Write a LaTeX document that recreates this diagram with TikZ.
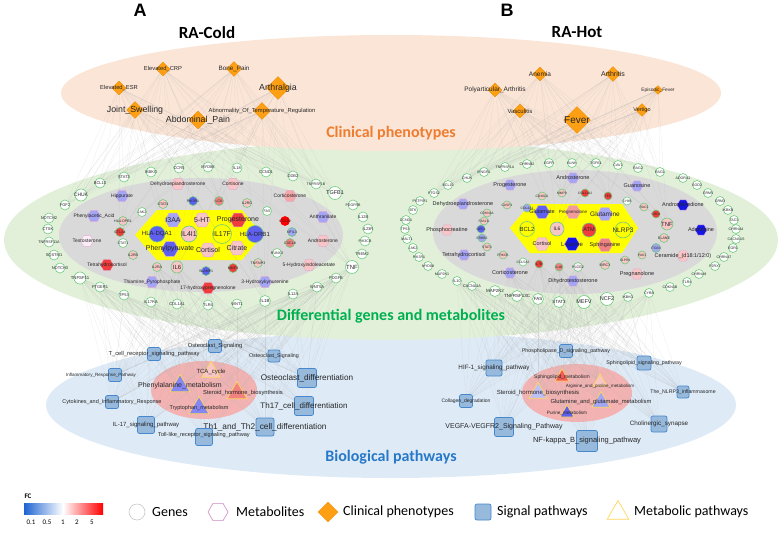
\documentclass[tikz,border=0pt]{standalone}
\usepackage{fontspec}
\setmainfont{Liberation Sans}
\newfontfamily\calibrifont{Carlito}
\usepackage{tikz}
\usetikzlibrary{shapes.geometric,backgrounds}
\definecolor{fcBthree}{RGB}{20,20,230}
\definecolor{fcBtwo}{RGB}{95,95,240}
\definecolor{fcBone}{RGB}{165,165,245}
\definecolor{fcW}{RGB}{250,238,246}
\definecolor{fcRone}{RGB}{248,198,198}
\definecolor{fcRtwo}{RGB}{240,130,130}
\definecolor{fcRthree}{RGB}{240,60,60}
\definecolor{fcRfour}{RGB}{250,0,0}
\definecolor{geneLine}{RGB}{110,205,125}
\definecolor{metaLine}{RGB}{225,175,210}
\definecolor{phenoOrange}{RGB}{255,160,20}
\definecolor{phenoLine}{RGB}{235,140,0}
\definecolor{sigFill}{RGB}{150,185,220}
\definecolor{sigLine}{RGB}{70,135,205}
\definecolor{metabLine}{RGB}{255,215,90}
\definecolor{yellowHub}{RGB}{255,255,0}
\definecolor{peachBg}{RGB}{251,229,214}
\definecolor{greenBg}{RGB}{226,240,217}
\definecolor{blueBg}{RGB}{222,235,247}
\definecolor{grayBg}{RGB}{217,217,217}
\definecolor{pinkBg}{RGB}{244,178,178}
\definecolor{orangeTxt}{RGB}{237,125,49}
\definecolor{greenTxt}{RGB}{0,176,80}
\definecolor{blueTxt}{RGB}{40,120,200}
\definecolor{barBlue}{RGB}{30,100,210}
\definecolor{legLine}{RGB}{200,200,200}
\pgfdeclarelayer{back}
\pgfdeclarelayer{edges}
\pgfsetlayers{back,edges,main}
\tikzset{
  lab/.style={font=\fontsize{#1}{#1}\selectfont, inner sep=0pt, text=black!85},
  gene/.style={circle, draw=geneLine, line width=0.6pt, fill=white, inner sep=0pt, minimum size=#1},
  gene/.default=10pt,
  meta/.style={regular polygon, regular polygon sides=6, draw=metaLine, line width=0.4pt, inner sep=0pt, minimum size=#1},
  meta/.default=13pt,
  pheno/.style={diamond, draw=phenoLine, line width=0.4pt, fill=phenoOrange, inner sep=0pt, minimum size=#1},
  sig/.style={rectangle, rounded corners=2pt, draw=sigLine, line width=0.7pt, fill=sigFill, inner sep=0pt, minimum size=#1},
  metab/.style={regular polygon, regular polygon sides=3, draw=metabLine, line width=0.7pt, inner sep=0pt, minimum size=#1},
  link/.style={draw=black!30, line width=0.2pt, opacity=0.3},
  title/.style={font=\calibrifont\bfseries\fontsize{16}{16}\selectfont},
  legtxt/.style={font=\calibrifont\fontsize{14}{14}\selectfont, anchor=west, inner sep=0pt},
}

\begin{document}
\begin{tikzpicture}[x=1pt, y=-1pt]
\useasboundingbox (0,0) rectangle (783,532);

% layers of the figure
\begin{pgfonlayer}{back}
\fill[blueBg] (391,405) ellipse [x radius=345pt, y radius=73pt];
\fill[greenBg] (391,240) ellipse [x radius=387pt, y radius=100pt];
\fill[peachBg] (391,93) ellipse [x radius=330pt, y radius=58pt];
\fill[grayBg] (201,235) ellipse [x radius=142pt, y radius=57pt];
\fill[grayBg] (575,232) ellipse [x radius=142pt, y radius=62pt];
\fill[yellowHub] (135,235) -- (157,210) -- (242,210) -- (262,235) -- (242,260) -- (157,260) -- cycle;
\fill[yellowHub] (510,228) -- (530,204) -- (622,204) -- (638,228) -- (622,253) -- (530,253) -- cycle;
\fill[pinkBg] (204,390) ellipse [x radius=53pt, y radius=29pt];
\fill[pinkBg] (577,393) ellipse [x radius=55pt, y radius=29pt];
\end{pgfonlayer}

\node[font=\bfseries\fontsize{18}{18}\selectfont] (panelA) at (140,10) {A};
\node[font=\bfseries\fontsize{18}{18}\selectfont] (panelB) at (507,10) {B};
\node[font=\calibrifont\bfseries\fontsize{17}{17}\selectfont] (coldTitle) at (207,33) {RA-Cold};
\node[font=\calibrifont\bfseries\fontsize{17}{17}\selectfont] (hotTitle) at (577,32) {RA-Hot};
\node[title, text=orangeTxt] (layerPheno) at (391,133) {Clinical phenotypes};
\node[title, text=greenTxt] (layerGenes) at (391,316) {Differential genes and metabolites};
\node[title, text=blueTxt] (layerPath) at (391,457) {Biological pathways};

% clinical phenotypes, RA-Cold
\node[pheno=14pt, label={[lab=5.8]center:Elevated\_CRP}] (aCRP) at (163,69) {};
\node[pheno=15pt, label={[lab=6.3]center:Bone\_Pain}] (aBone) at (234,69) {};
\node[pheno=14pt, label={[lab=5.8]center:Elevated\_ESR}] (aESR) at (119,88) {};
\node[pheno=23pt, label={[lab=8.8]center:Arthralgia}] (aArth) at (278,88) {};
\node[pheno=17pt, label={[lab=8.8]center:Joint\_Swelling}] (aJoint) at (135,110) {};
\node[pheno=17pt, label={[lab=5.8]center:Abnormality\_Of\_Temperature\_Regulation}] (aAbn) at (262,111) {};
\node[pheno=18pt, label={[lab=8.8]center:Abdominal\_Pain}] (aAbd) at (198,120) {};

% clinical phenotypes, RA-Hot
\node[pheno=14pt, label={[lab=6.5]center:Anemia}] (bAnemia) at (540,74) {};
\node[pheno=15pt, label={[lab=7]center:Arthritis}] (bArthritis) at (613,74) {};
\node[pheno=14pt, label={[lab=6.5]center:Polyarticular\_Arthritis}] (bPoly) at (495,90) {};
\node[pheno=9pt, label={[lab=4.8]center:Episodic\_Fever}] (bEpi) at (658,90) {};
\node[pheno=14pt, label={[lab=6]center:Vasculitis}] (bVasc) at (520,111) {};
\node[pheno=13pt, label={[lab=5.5]center:Vertigo}] (bVert) at (642,110) {};
\node[pheno=27pt, label={[lab=10]center:Fever}] (bFever) at (577,120) {};

% genes, outer ring A
\node[gene, label={[lab=4]center:STAT3}] (aSTAT3) at (124,177) {};
\node[gene, label={[lab=4]center:IKBKG}] (aIKBKG) at (151,172) {};
\node[gene, label={[lab=4]center:CCR5}] (aCCR5) at (179,168) {};
\node[gene, label={[lab=4]center:MYD88}] (aMYD88) at (208,167) {};
\node[gene, label={[lab=4]center:IL18}] (aIL18) at (237,168) {};
\node[gene, label={[lab=4]center:CCND1}] (aCCND1) at (266,172) {};
\node[gene, label={[lab=4]center:DDB2}] (aDDB2) at (293,176) {};
\node[gene, label={[lab=3.6]center:TNFRSF1B}] (aTNFR) at (316,184) {};
\node[gene=13pt, label={[lab=5.5]center:TGFB1}] (aTGFB1) at (335,193) {};
\node[gene, label={[lab=3.6]center:PDGFRB}] (aPDGFRB) at (353,205) {};
\node[gene, label={[lab=4]center:IL12B}] (aIL12B) at (363,217) {};
\node[gene, label={[lab=4]center:IL23R}] (aIL23R) at (368,229) {};
\node[gene, label={[lab=3.6]center:PIK3CB}] (aPIK3CB) at (365,241) {};
\node[gene, label={[lab=4]center:TREM2}] (aTREM2) at (362,254) {};
\node[gene=13pt, label={[lab=6]center:TNF}] (aTNF) at (352,267) {};
\node[gene, label={[lab=4]center:PDGFB}] (aPDGFB) at (336,278) {};
\node[gene, label={[lab=4]center:WNT5A}] (aWNT5A) at (317,287) {};
\node[gene, label={[lab=4]center:IL12A}] (aIL12A) at (293,294) {};
\node[gene=11pt, label={[lab=4.5]center:IL1B}] (aIL1B) at (265,301) {};
\node[gene, label={[lab=4]center:WNT1}] (aWNT1) at (237,304) {};
\node[gene, label={[lab=4]center:TLR4}] (aTLR4) at (208,305) {};
\node[gene, label={[lab=4]center:COL1A1}] (aCOL1A1) at (177,304) {};
\node[gene, label={[lab=4]center:IL17RA}] (aIL17RA) at (151,302) {};
\node[gene, label={[lab=4]center:TP53}] (aTP53) at (124,295) {};
\node[gene, label={[lab=4]center:PTGER1}] (aPTGER1) at (100,287) {};
\node[gene=12pt, label={[lab=4.3]center:TNFSF11}] (aTNFSF11) at (80,278) {};
\node[gene, label={[lab=4]center:NOTCH3}] (aNOTCH3) at (60,268) {};
\node[gene, label={[lab=4]center:SQSTM1}] (aSQSTM1) at (54,255) {};
\node[gene, label={[lab=3.8]center:TNFRSF11A}] (aTNFRSF11A) at (49,242) {};
\node[gene, label={[lab=4]center:CTSK}] (aCTSK) at (48,229) {};
\node[gene, label={[lab=4]center:NOTCH2}] (aNOTCH2) at (49,218) {};
\node[gene, label={[lab=4]center:FGF2}] (aFGF2) at (65,205) {};
\node[gene=12pt, label={[lab=5]center:CHUK}] (aCHUK) at (81,195) {};
\node[gene, label={[lab=4]center:BCL10}] (aBCL10) at (100,183) {};

% metabolites and genes, gray zone A
\node[meta, fill=fcRone, label={[lab=5]center:Dehydroepiandrosterone}] (aDHEA) at (178,184) {};
\node[meta, fill=fcRone, label={[lab=5]center:Cortisone}] (aCortisone) at (233,184) {};
\node[meta, fill=fcBone, label={[lab=5]center:Hippurate}] (aHipp) at (122,196) {};
\node[meta, fill=fcBone, label={[lab=5]center:Phenylacetic\_Acid}] (aPhAc) at (94,216) {};
\node[meta, fill=fcW, label={[lab=5]center:Testosterone}] (aTesto) at (87,241) {};
\node[meta, fill=fcRthree, label={[lab=5]center:Tetrahydrocortisol}] (aTHC) at (107,265) {};
\node[meta, fill=fcBone, label={[lab=5]center:Thiamine\_Pyrophosphate}] (aTPP) at (152,282) {};
\node[meta, fill=fcRthree, label={[lab=5]center:17-hydroxypregnenolone}] (a17OH) at (208,288) {};
\node[meta, fill=fcRtwo!70, label={[lab=5]center:Corticosterone}] (aCortico) at (290,196) {};
\node[meta, fill=fcBone, label={[lab=5]center:Anthranilate}] (aAnth) at (323,217) {};
\node[meta, fill=fcRone, label={[lab=5]center:Androsterone}] (aAndro) at (323,241) {};
\node[meta, fill=fcRone, label={[lab=5]center:5-Hydroxyindoleacetate}] (a5HIAA) at (309,265) {};
\node[meta, fill=fcBone, label={[lab=5]center:3-Hydroxykynurenine}] (a3HK) at (265,282) {};
\node[gene=9pt, fill=fcRone, label={[lab=3.6]center:STAT4}] (aSTAT4) at (163,204) {};
\node[gene=9pt, fill=fcBtwo, label={[lab=3.6]center:PIK3R1}] (aPIK3R1) at (193,201) {};
\node[gene=9pt, fill=fcRtwo, label={[lab=3.6]center:LCK}] (aLCK) at (219,201) {};
\node[gene=9pt, fill=fcRone, label={[lab=3.6]center:IL2RG}] (aIL2RG) at (247,203) {};
\node[gene=9pt, label={[lab=3.6]center:JAK2}] (aJAK2) at (142,212) {};
\node[gene=9pt, fill=fcRone, label={[lab=3.6]center:HLA-DPB1}] (aHLADPB1) at (123,221) {};
\node[gene=9pt, fill=fcRthree, label={[lab=3.6]center:CTLA4}] (aCTLA4) at (120,232) {};
\node[gene=9pt, label={[lab=3.6]center:STAT1}] (aSTAT1) at (123,243) {};
\node[gene=9pt, fill=fcRone, label={[lab=3.6]center:IL2RB}] (aIL2RB) at (133,255) {};
\node[gene=9pt, fill=fcRone, label={[lab=3.6]center:IL2RA}] (aIL2RA) at (157,267) {};
\node[gene=12pt, fill=fcRone, label={[lab=6]center:IL6}] (aIL6) at (177,267) {};
\node[gene=9pt, fill=fcBtwo, label={[lab=3.6]center:SLAMF1}] (aSLAMF1) at (206,271) {};
\node[gene=9pt, fill=fcRthree, label={[lab=3.6]center:MMP3}] (aMMP3) at (233,268) {};
\node[gene=9pt, fill=fcRone, label={[lab=3.6]center:TNFAIP3}] (aTNFAIP3) at (258,263) {};
\node[gene=9pt, label={[lab=3.6]center:RUNX3}] (aRUNX3) at (277,253) {};
\node[gene=9pt, fill=fcRtwo, label={[lab=3.6]center:CXCL8}] (aCXCL8) at (290,243) {};
\node[gene=9pt, fill=fcBone, label={[lab=3.6]center:NFIL3}] (aNFIL3) at (292,232) {};
\node[gene=9pt, draw=fcRfour, fill=fcRfour, label={[lab=3.6]center:CCL20}] (aCCL20) at (285,221) {};
\node[gene=9pt, label={[lab=3.6]center:FAS}] (aFAS) at (267,211) {};

% hub A
\node[meta=16pt, fill=fcBone, label={[lab=7]center:I3AA}] (aI3AA) at (173,220) {};
\node[meta=16pt, fill=fcRone, label={[lab=7]center:5-HT}] (a5HT) at (202,220) {};
\node[meta=16pt, fill=fcRthree, label={[lab=7]center:Progesterone}] (aProg) at (238,220) {};
\node[gene=16pt, fill=fcBtwo, label={[lab=6]center:HLA-DQA1}] (aHLADQA1) at (157,234) {};
\node[gene=16pt, fill=fcRone, label={[lab=7]center:IL4I1}] (aIL4I1) at (189,234) {};
\node[gene=19pt, fill=yellowHub, label={[lab=7]center:IL17F}] (aIL17F) at (222,234) {};
\node[gene=17pt, fill=fcBtwo, label={[lab=6]center:HLA-DRB1}] (aHLADRB1) at (255,234) {};
\node[meta=17pt, fill=fcBtwo, label={[lab=7]center:Phenylpyruvate}] (aPhPyr) at (170,249) {};
\node[meta=16pt, fill=fcRone, label={[lab=7]center:Cortisol}] (aCortisol) at (208,250) {};
\node[meta=16pt, fill=fcRone, label={[lab=7]center:Citrate}] (aCitrate) at (237,248) {};

% genes, outer ring B
\node[gene=9pt, label={[lab=3.6]center:TNFRSF1A}] (bTNFRSF1A) at (505,167) {};
\node[gene=9pt, label={[lab=3.6]center:CHRNB2}] (bCHRNB2) at (527,164) {};
\node[gene=9pt, label={[lab=3.6]center:EGFR}] (bEGFR) at (549,163) {};
\node[gene=9pt, label={[lab=3.6]center:BLNK}] (bBLNK) at (572,163) {};
\node[gene=9pt, label={[lab=3.6]center:TGFB1}] (bTGFB1) at (596,163) {};
\node[gene=9pt, label={[lab=3.6]center:CAV1}] (bCAV1) at (618,165) {};
\node[gene=9pt, label={[lab=3.6]center:RAG2}] (bRAG2) at (638,168) {};
\node[gene=9pt, label={[lab=3.6]center:RAG1}] (bRAG1) at (660,172) {};
\node[gene=9pt, label={[lab=3.6]center:ADORA1}] (bADORA1) at (683,178) {};
\node[gene=9pt, label={[lab=3.6]center:SOD2}] (bSOD2) at (697,185) {};
\node[gene=9pt, label={[lab=3.6]center:GRM5}] (bGRM5) at (708,193) {};
\node[gene=9pt, label={[lab=3.6]center:GRM3}] (bGRM3) at (720,201) {};
\node[gene=9pt, label={[lab=3.6]center:IKBKB}] (bIKBKB) at (728,210) {};
\node[gene=9pt, label={[lab=3.6]center:TAC3}] (bTAC3) at (734,220) {};
\node[gene=9pt, label={[lab=3.6]center:CHRNA4}] (bCHRNA4) at (736,229) {};
\node[gene=9pt, label={[lab=3.6]center:CACNA1S}] (bCACNA1S) at (736,239) {};
\node[gene=9pt, label={[lab=3.6]center:EGR1}] (bEGR1) at (733,248) {};
\node[gene=9pt, label={[lab=3.6]center:CHRNA7}] (bCHRNA7) at (724,257) {};
\node[gene=9pt, label={[lab=3.6]center:P2RX7}] (bP2RX7) at (715,266) {};
\node[gene=9pt, label={[lab=3.6]center:CHRNA9}] (bCHRNA9) at (699,274) {};
\node[gene=9pt, label={[lab=3.6]center:TLR4}] (bTLR4) at (687,282) {};
\node[gene=9pt, label={[lab=3.6]center:CDKN1B}] (bCDKN1B) at (670,287) {};
\node[gene=9pt, label={[lab=3.6]center:CYBB}] (bCYBBo) at (649,293) {};
\node[gene=9pt, label={[lab=3.6]center:IKBKG}] (bIKBKG) at (628,297) {};
\node[gene=13pt, label={[lab=5.5]center:NCF2}] (bNCF2) at (607,299) {};
\node[gene=13pt, label={[lab=5.5]center:MEFV}] (bMEFV) at (584,302) {};
\node[gene=11pt, label={[lab=4.5]center:STAT3}] (bSTAT3) at (559,302) {};
\node[gene=11pt, label={[lab=4.5]center:FAS}] (bFAS) at (538,299) {};
\node[gene=11pt, label={[lab=4.5]center:TNFRSF13C}] (bTNFRSF13C) at (517,296) {};
\node[gene=11pt, label={[lab=4.5]center:MAP2K2}] (bMAP2K2) at (495,291) {};
\node[gene=9pt, label={[lab=3.8]center:CACNA1A}] (bCACNA1A) at (472,286) {};
\node[gene=9pt, label={[lab=3.8]center:IL10}] (bIL10) at (457,281) {};
\node[gene=9pt, label={[lab=3.6]center:MAP2K1}] (bMAP2K1) at (442,274) {};
\node[gene=9pt, label={[lab=3.6]center:MYD88}] (bMYD88) at (428,266) {};
\node[gene=9pt, label={[lab=3.6]center:PIK3R1}] (bPIK3R1) at (419,257) {};
\node[gene=9pt, label={[lab=3.6]center:JAK2}] (bJAK2) at (413,248) {};
\node[gene=9pt, label={[lab=3.6]center:MALT1}] (bMALT1) at (407,239) {};
\node[gene=9pt, label={[lab=3.6]center:TP53}] (bTP53) at (405,229) {};
\node[gene=9pt, label={[lab=3.6]center:CCND1}] (bCCND1) at (406,220) {};
\node[gene=9pt, label={[lab=3.6]center:BTK}] (bBTK) at (413,210) {};
\node[gene=9pt, label={[lab=3.6]center:PSTPIP1}] (bPSTPIP1) at (420,201) {};
\node[gene=9pt, label={[lab=3.6]center:PTGS2}] (bPTGS2) at (434,193) {};
\node[gene=9pt, label={[lab=3.6]center:BCL10}] (bBCL10) at (448,185) {};
\node[gene=9pt, label={[lab=3.6]center:CHUK}] (bCHUK) at (467,178) {};
\node[gene=9pt, label={[lab=3.6]center:IFNGR1}] (bIFNGR1) at (484,172) {};

% metabolites and genes, gray zone B
\node[meta=12pt, fill=fcBone, label={[lab=5.5]center:Androsterone}] (bAndro) at (573,178) {};
\node[meta=12pt, fill=fcBone, label={[lab=5.5]center:Progesterone}] (bProg) at (510,185) {};
\node[meta=12pt, fill=fcBone, label={[lab=5.5]center:Guanosine}] (bGuan) at (637,186) {};
\node[meta=12pt, fill=fcBone, label={[lab=5.5]center:Dehydroepiandrosterone}] (bDHEA) at (463,204) {};
\node[meta=12pt, fill=fcBthree, label={[lab=5.5]center:Androstenedione}] (bAndrost) at (683,205) {};
\node[meta=12pt, fill=fcRone, label={[lab=5.5]center:Phosphocreatine}] (bPhC) at (447,230) {};
\node[meta=12pt, fill=fcBthree, label={[lab=5.5]center:Adenosine}] (bAden) at (701,230) {};
\node[meta=12pt, fill=fcBone, label={[lab=5.5]center:Tetrahydrocortisol}] (bTHC) at (464,255) {};
\node[meta=12pt, fill=fcRone, label={[lab=5.5]center:{Ceramide\_(d18:1/12:0)}}] (bCer) at (683,256) {};
\node[meta=12pt, fill=fcBone, label={[lab=5.5]center:Corticosterone}] (bCortico) at (510,273) {};
\node[meta=12pt, fill=fcRone, label={[lab=5.5]center:Pregnanolone}] (bPreg) at (637,274) {};
\node[meta=12pt, fill=fcBone, label={[lab=5.5]center:Dihydrotestosterone}] (bDHT) at (573,281) {};
\node[gene=8pt, fill=fcBone, label={[lab=3.3]center:COL4A1}] (bCOL4A1) at (527,208) {};
\node[gene=8pt, fill=fcRone, label={[lab=3.3]center:CASP1}] (bCASP1) at (507,205) {};
\node[gene=8pt, fill=fcRone, label={[lab=3.3]center:CD40LG}] (bCD40LG) at (542,196) {};
\node[gene=8pt, fill=fcRone, label={[lab=3.3]center:MMP9}] (bMMP9) at (562,193) {};
\node[gene=8pt, fill=fcRthree, label={[lab=3.3]center:COL11A2}] (bCOL11A2) at (585,193) {};
\node[gene=8pt, fill=fcRthree, label={[lab=3.3]center:TEK}] (bTEK) at (608,196) {};
\node[gene=8pt, label={[lab=3.3]center:CYBB}] (bCYBB) at (627,201) {};
\node[gene=8pt, fill=fcRone, label={[lab=3.3]center:RAC2}] (bRAC2) at (644,207) {};
\node[gene=8pt, fill=fcRthree, label={[lab=3.3]center:CRD1}] (bCRD1) at (656,214) {};
\node[gene=12pt, fill=fcRone, label={[lab=6]center:TNF}] (bTNF) at (667,224) {};
\node[gene=9pt, fill=fcRone, label={[lab=3.6]center:ELANE}] (bELANE) at (664,238) {};
\node[gene=9pt, fill=fcBone, label={[lab=3.3]center:ITGB3}] (bITGB3) at (656,248) {};
\node[gene=8pt, fill=fcRone, label={[lab=3.3]center:PAK1}] (bPAK1) at (642,255) {};
\node[gene=8pt, fill=fcRone, label={[lab=3.3]center:S1PR4}] (bS1PR4) at (625,260) {};
\node[gene=9pt, fill=fcRone, label={[lab=3.6]center:BIRC3}] (bBIRC3) at (605,265) {};
\node[gene=9pt, fill=fcW, label={[lab=3.6]center:PLCG2}] (bPLCG2) at (578,267) {};
\node[gene=8pt, fill=fcRtwo, label={[lab=3.3]center:IL1B}] (bIL1B) at (559,267) {};
\node[gene=8pt, fill=fcRthree, label={[lab=3.3]center:IL7R}] (bIL7R) at (539,264) {};
\node[gene=8pt, label={[lab=3.3]center:COL5A2}] (bCOL5A2) at (523,262) {};
\node[gene=8pt, fill=fcRone, label={[lab=3.3]center:PRKCB}] (bPRKCB) at (503,255) {};
\node[gene=8pt, fill=fcRone, label={[lab=3.3]center:STAT1}] (bSTAT1) at (487,247) {};
\node[gene=8pt, fill=fcBone, label={[lab=3.3]center:ERBB2}] (bERBB2) at (482,238) {};
\node[gene=8pt, fill=fcBtwo, label={[lab=3.3]center:GPC1}] (bGPC1) at (481,229) {};
\node[gene=8pt, fill=fcRone, label={[lab=3.3]center:FASLG}] (bFASLG) at (484,221) {};
\node[gene=8pt, fill=fcRone, label={[lab=3.3]center:CDKN1A}] (bCDKN1A) at (487,213) {};

% hub B
\node[meta=15pt, fill=fcBtwo, label={[lab=5.5]center:Glutamate}] (bGlu) at (542,212) {};
\node[meta=15pt, fill=fcRtwo!80, label={[lab=4.5]center:Pregnenolone}] (bPregn) at (573,212) {};
\node[meta=15pt, fill=fcBone, label={[lab=6.5]center:Glutamine}] (bGln) at (605,214) {};
\node[gene=15pt, fill=yellowHub, label={[lab=6]center:BCL2}] (bBCL2) at (527,229) {};
\node[gene=14pt, fill=fcRone, label={[lab=5]center:IL6}] (bIL6) at (557,229) {};
\node[gene=14pt, fill=fcRthree, label={[lab=5.5]center:ATM}] (bATM) at (589,230) {};
\node[gene=16pt, fill=yellowHub, label={[lab=6.5]center:NLRP3}] (bNLRP3) at (623,230) {};
\node[meta=15pt, fill=fcRone, label={[lab=5.5]center:Cortisol}] (bCortisol) at (542,244) {};
\node[meta=15pt, fill=fcBthree, label={[lab=6]center:L-serine}] (bLSer) at (572,244) {};
\node[meta=15pt, fill=fcRtwo, label={[lab=5.5]center:Sphinganine}] (bSphg) at (605,245) {};

% pathways A
\node[sig=13pt, label={[lab=5.8]center:Osteoclast\_Signaling}] (aOSa) at (215,346) {};
\node[sig=13pt, label={[lab=5.8]center:T\_cell\_receptor\_signaling\_pathway}] (aTCR) at (154,354) {};
\node[sig=12pt, label={[lab=5.3]center:Osteoclast\_Signaling}] (aOSb) at (274,356) {};
\node[sig=13pt, label={[lab=4.6, xshift=-14pt]center:Inflammatory\_Response\_Pathway}] (aInf) at (115,375) {};
\node[sig=19pt, label={[lab=8.2]center:Osteoclast\_differentiation}] (aOD) at (307,378) {};
\node[sig=13pt, label={[lab=5.5]center:Cytokines\_and\_Inflammatory\_Response}] (aCyt) at (112,402) {};
\node[sig=19pt, label={[lab=8]center:Th17\_cell\_differentiation}] (aTh17) at (304,406) {};
\node[sig=17pt, label={[lab=6]center:IL-17\_signaling\_pathway}] (aIL17) at (146,425) {};
\node[sig=18pt, label={[lab=8.3]center:Th1\_and\_Th2\_cell\_differentiation}] (aTh1) at (265,427) {};
\node[sig=17pt, label={[lab=5.6, yshift=2pt]center:Toll-like\_receptor\_signaling\_pathway}] (aTLR) at (204,437) {};
\node[metab=21pt, fill=fcRone, label={[lab=6]center:TCA\_cycle}] (aTCA) at (211,372) {};
\node[metab=23pt, fill=fcBtwo!75, label={[lab=7]center:Phenylalanine\_metabolism}] (aPhe) at (180,386) {};
\node[metab=23pt, fill=fcRtwo, label={[lab=5.8, xshift=6pt]center:Steroid\_hormone\_biosynthesis}] (aSte) at (237,393) {};
\node[metab=23pt, fill=fcBtwo!75, label={[lab=5.5]center:Tryptophan\_metabolism}] (aTry) at (199,408) {};

% pathways B
\node[sig=13pt, label={[lab=5.3]center:Phospholipase\_D\_signaling\_pathway}] (bPLD) at (566,351) {};
\node[sig=16pt, label={[lab=6.3]center:HIF-1\_signaling\_pathway}] (bHIF) at (494,368) {};
\node[sig=14pt, label={[lab=5.3]center:Sphingolipid\_signaling\_pathway}] (bSphS) at (644,363) {};
\node[sig=13pt, label={[lab=5]center:Collagen\_degradation}] (bCol) at (466,401) {};
\node[sig=12pt, label={[lab=5.2]center:The\_NLRP3\_inflammasome}] (bNLRP) at (683,392) {};
\node[sig=19pt, label={[lab=7]center:VEGFA-VEGFR2\_Signaling\_Pathway}] (bVEGF) at (504,427) {};
\node[sig=16pt, label={[lab=6.3]center:Cholinergic\_synapse}] (bChol) at (659,424) {};
\node[sig=21pt, label={[lab=7.5]center:NF-kappa\_B\_signaling\_pathway}] (bNFKB) at (587,441) {};
\node[metab=16pt, fill=fcRthree!85, label={[lab=5]center:Sphingolipid\_metabolism}] (bSphM) at (562,377) {};
\node[metab=16pt, fill=fcRone, label={[lab=4.5, yshift=-4pt]center:Arginine\_and\_proline\_metabolism}] (bArg) at (600,382) {};
\node[metab=21pt, fill=fcBone!70, label={[lab=6]center:Steroid\_hormone\_biosynthesis}] (bSteB) at (538,393) {};
\node[metab=21pt, fill=fcBone, label={[lab=5.8]center:Glutamine\_and\_glutamate\_metabolism}] (bGlnM) at (601,402) {};
\node[metab=16pt, fill=fcBtwo, label={[lab=4.7]center:Purine\_metabolism}] (bPur) at (567,413) {};

% network links
\begin{pgfonlayer}{edges}
\foreach \p in {aCRP,aBone,aESR,aArth,aJoint,aAbn,aAbd}
  \foreach \g in {aSTAT3,aIKBKG,aCCR5,aMYD88,aIL18,aCCND1,aDDB2,aTNFR,aTGFB1,aCHUK,aBCL10,aFGF2,aIL6,aCTLA4,aLCK,aTNF,aIL1B}
    \draw[link] (\p) -- (\g);
\foreach \p in {aOSa,aTCR,aOSb,aInf,aOD,aCyt,aTh17,aIL17,aTh1,aTLR,aTCA,aPhe,aSte,aTry}
  \foreach \g in {aTP53,aIL17RA,aCOL1A1,aTLR4,aWNT1,aIL1B,aIL12A,aWNT5A,aPDGFB,aTNF,aTNFSF11,aPTGER1,aIL6,aIL2RA,a17OH}
    \draw[link] (\p) -- (\g);
\foreach \p in {bAnemia,bArthritis,bPoly,bEpi,bVasc,bVert,bFever}
  \foreach \g in {bTNFRSF1A,bCHRNB2,bEGFR,bBLNK,bTGFB1,bCAV1,bRAG2,bRAG1,bIFNGR1,bCHUK,bBCL10,bPTGS2,bIL6,bTNF,bMMP9,bTEK}
    \draw[link] (\p) -- (\g);
\foreach \p in {bPLD,bHIF,bSphS,bCol,bNLRP,bVEGF,bChol,bNFKB,bSphM,bArg,bSteB,bGlnM,bPur}
  \foreach \g in {bMEFV,bNCF2,bSTAT3,bFAS,bTNFRSF13C,bMAP2K2,bCACNA1A,bIL10,bIKBKG,bCYBBo,bIL1B,bIL7R,bCortico,bDHT,bPLCG2}
    \draw[link] (\p) -- (\g);
\end{pgfonlayer}

% legend
\node[font=\calibrifont\bfseries\fontsize{7}{7}\selectfont] (fcTitle) at (28,496) {FC};
\shade[left color=barBlue, right color=white] (24,503) rectangle (63,514);
\shade[left color=white, right color=red] (63,503) rectangle (103,514);
\node[font=\calibrifont\fontsize{7}{7}\selectfont] (fcA) at (31,522) {0.1};
\node[font=\calibrifont\fontsize{7}{7}\selectfont] (fcB) at (47,522) {0.5};
\node[font=\calibrifont\fontsize{7}{7}\selectfont] (fcC) at (63,522) {1};
\node[font=\calibrifont\fontsize{7}{7}\selectfont] (fcD) at (77,522) {2};
\node[font=\calibrifont\fontsize{7}{7}\selectfont] (fcE) at (92,522) {5};
\node[circle, draw=legLine, line width=0.6pt, fill=white, minimum size=16pt] (legGene) at (137,512) {};
\node[legtxt] at (152,512) {Genes};
\node[meta=20pt, draw=metaLine!80!violet, line width=0.6pt, fill=white] (legMeta) at (218,512) {};
\node[legtxt] at (236,512) {Metabolites};
\node[pheno=20pt] (legPheno) at (328,512) {};
\node[legtxt] at (343,512) {Clinical phenotypes};
\node[sig=16pt] (legSig) at (483,512) {};
\node[legtxt] at (497,512) {Signal pathways};
\node[metab=25pt, fill=white] (legMetab) at (618,513) {};
\node[legtxt] at (634,512) {Metabolic pathways};

\end{tikzpicture}
\end{document}
